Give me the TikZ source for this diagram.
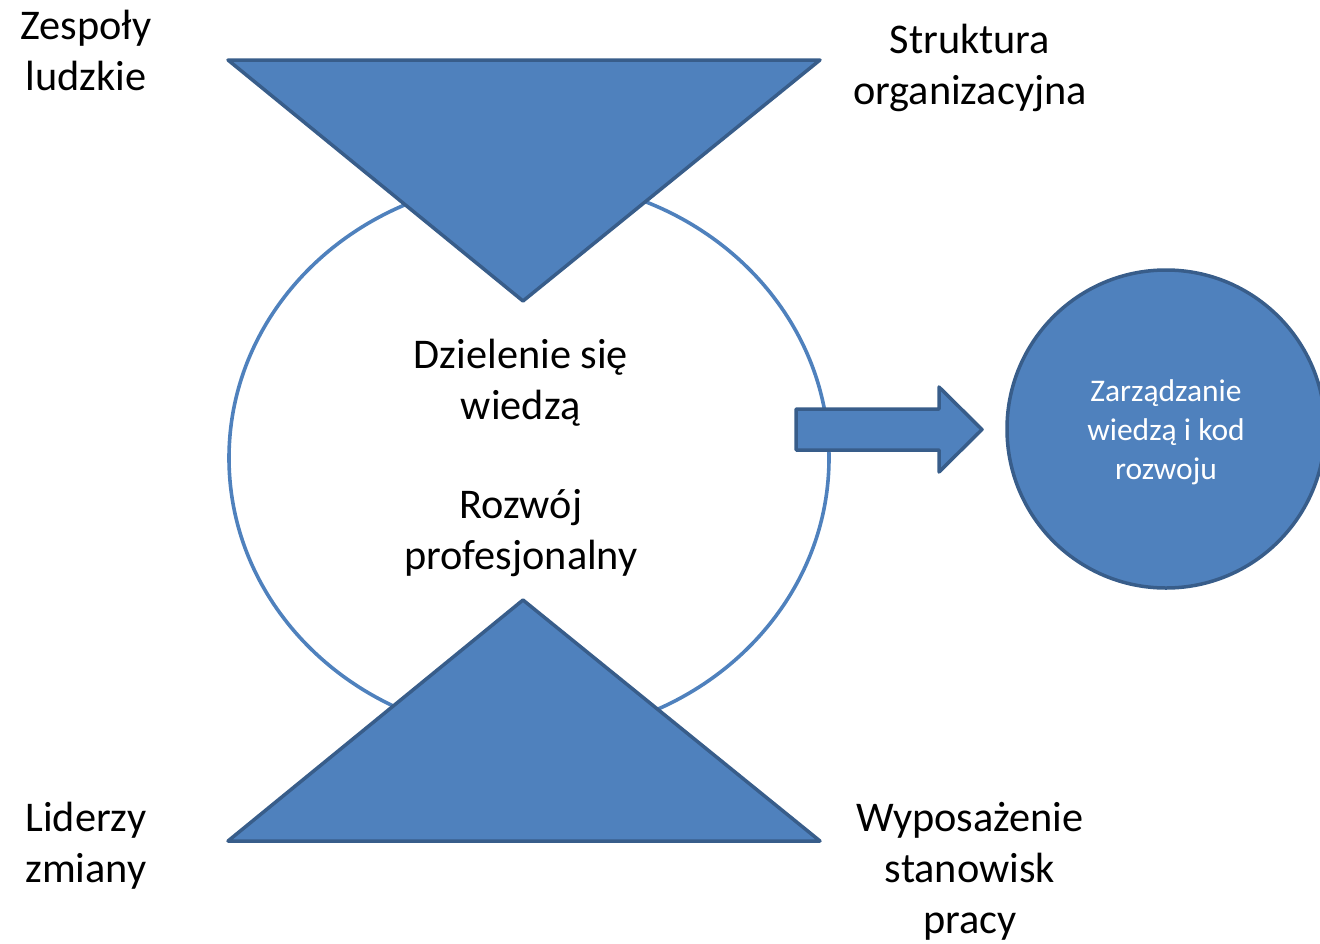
\documentclass[tikz,border=0pt]{standalone}
\usepackage{fontspec}
\setmainfont{Carlito}
\usetikzlibrary{shapes.geometric}
\definecolor{niebieski}{HTML}{4F81BD}
\definecolor{ciemny}{HTML}{385D8A}
\tikzset{
	opis/.style={align=center, inner sep=0pt, font=\fontsize{42.3}{51}\selectfont},
	bryla/.style={fill=niebieski, draw=ciemny, line width=3.5pt, line join=round},
}
\begin{document}
\begin{tikzpicture}[x=1pt,y=-1pt]
	\clip (0,0) rectangle (1320,943);
	% krag wiedzy
	\node[ellipse, draw=niebieski, line width=3.6pt, minimum width=600, minimum height=556, inner sep=0pt] (krag) at (529,458) {};
	\node[opis] (dzielenie) at (521,383) {Dzielenie się\\wiedzą};
	\node[opis] (rozwoj) at (521,533) {Rozwój\\profesjonalny};
	% trojkaty
	\draw[bryla] (228,60) -- (820,60) -- (523,301) -- cycle;
	\draw[bryla] (523,600) -- (820,841) -- (228,841) -- cycle;
	% strzalka i kolo
	\draw[bryla] (796,409) -- (939,409) -- (939,387) -- (982,429.5) -- (939,472) -- (939,450) -- (796,450) -- cycle;
	\node[circle, bryla, minimum size=318, inner sep=0pt, text=white, align=center, font=\fontsize{31.5}{39}\selectfont] (kod) at (1166,429) {\rule{0pt}{29pt}Zarządzanie\\wiedzą i kod\\rozwoju};
	% narozniki
	\node[opis] (zespoly) at (86,50) {Zespoły\\ludzkie};
	\node[opis] (struktura) at (970,68) {Struktura\\organizacyjna};
	\node[opis] (liderzy) at (86,846) {Liderzy\\zmiany};
	\node[opis] (wyposazenie) at (970,871) {Wyposażenie\\stanowisk\\pracy};
\end{tikzpicture}
\end{document}
